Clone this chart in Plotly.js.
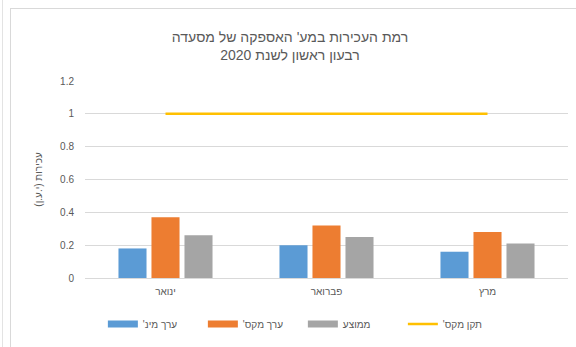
<!DOCTYPE html>
<html>
<head>
<meta charset="utf-8">
<script src="https://cdn.plot.ly/plotly-3.0.1.min.js"></script>
<style>
  html, body { margin: 0; padding: 0; background: #ffffff; }
  #chart { width: 576px; height: 347px; position: absolute; left: 0; top: 0; }
  #frame { position: absolute; left: 10px; top: 8px; width: 580px; height: 350px; border: 1px solid #d9d9d9; pointer-events: none; }
  #edge { position: absolute; left: 2px; top: 0; width: 1px; height: 347px; background: #e3e3e3; pointer-events: none; }
</style>
</head>
<body>
<div id="chart"></div>
<div id="frame"></div>
<div id="edge"></div>
<script>
const months = ['ינואר', 'פברואר', 'מרץ'];
const minVals = [0.18, 0.20, 0.16];
const maxVals = [0.37, 0.32, 0.28];
const avgVals = [0.26, 0.25, 0.21];
const stdVals = [1, 1, 1];
const seriesNames = ["ערך מינ'", "ערך מקס'", 'ממוצע', "תקן מקס'"];
const seriesColors = ['#5B9BD5', '#ED7D31', '#A5A5A5', '#FFC000'];
const titleLines = ["רמת העכירות במע' האספקה של מסעדה", 'רבעון ראשון לשנת 2020'];
const yTitle = 'עכירות (י.ע.ן)';

// wrap text with right-to-left marks so neutral characters are placed as in RTL text
const rtl = s => '\u200F' + s + '\u200F';

const font = 'Liberation Sans, Arial, sans-serif';
const gray = '#595959';

const barSeries = [minVals, maxVals, avgVals];
const data = [];
barSeries.forEach((vals, i) => {
  data.push({ type: 'bar', name: rtl(seriesNames[i]), x: months, y: vals,
              marker: { color: seriesColors[i] }, legendgroup: 'g' + i, showlegend: false });
});
data.push({ type: 'scatter', mode: 'lines', name: rtl(seriesNames[3]), x: months, y: stdVals,
            line: { color: seriesColors[3], width: 2.5 }, legendgroup: 'g3', showlegend: false });
// legend entries (wide rectangular keys as in the original)
seriesNames.forEach((n, i) => {
  data.push({ type: 'scatter', mode: 'lines', name: rtl(n), x: [null], y: [null],
              line: { color: seriesColors[i], width: i < 3 ? 7 : 2.5 }, legendgroup: 'g' + i,
              showlegend: true, hoverinfo: 'skip' });
});

const layout = {
  width: 576, height: 347,
  margin: { l: 85, r: 8, t: 81, b: 64 },
  paper_bgcolor: 'rgba(0,0,0,0)', plot_bgcolor: 'rgba(0,0,0,0)',
  font: { family: font, color: gray, size: 10 },
  title: { text: titleLines.map(rtl).join('<br>'), font: { family: font, size: 14, color: gray },
           x: 0.5035, xanchor: 'center', xref: 'container', y: 0.879, yanchor: 'top', yref: 'container' },
  barmode: 'group', bargap: 0.385, bargroupgap: 0.15,
  showlegend: true,
  legend: { orientation: 'h', x: 0.037, xanchor: 'left', y: -0.16, yanchor: 'top',
            font: { family: font, size: 10, color: gray }, traceorder: 'normal',
            itemwidth: 30, entrywidth: 55, entrywidthmode: 'pixels' },
  xaxis: { type: 'category', showgrid: false, showline: false, ticks: '', zeroline: false,
           tickfont: { family: font, size: 10, color: gray }, ticklabelstandoff: 6,
           tickvals: months, ticktext: months.map(rtl) },
  yaxis: { range: [0, 1.2], dtick: 0.2, showgrid: true, gridcolor: '#d9d9d9', gridwidth: 1,
           zeroline: true, zerolinecolor: '#d9d9d9', zerolinewidth: 1, showline: false, ticks: '',
           tickfont: { family: font, size: 10, color: gray }, ticklabelstandoff: 10 },
  annotations: [{ text: rtl(yTitle), xref: 'paper', yref: 'paper', x: -0.097, y: 0.5,
                  xanchor: 'center', yanchor: 'middle', textangle: -90, showarrow: false,
                  font: { family: font, size: 10, color: gray } }]
};

Plotly.newPlot('chart', data, layout, { displayModeBar: false, staticPlot: true });
</script>
</body>
</html>
